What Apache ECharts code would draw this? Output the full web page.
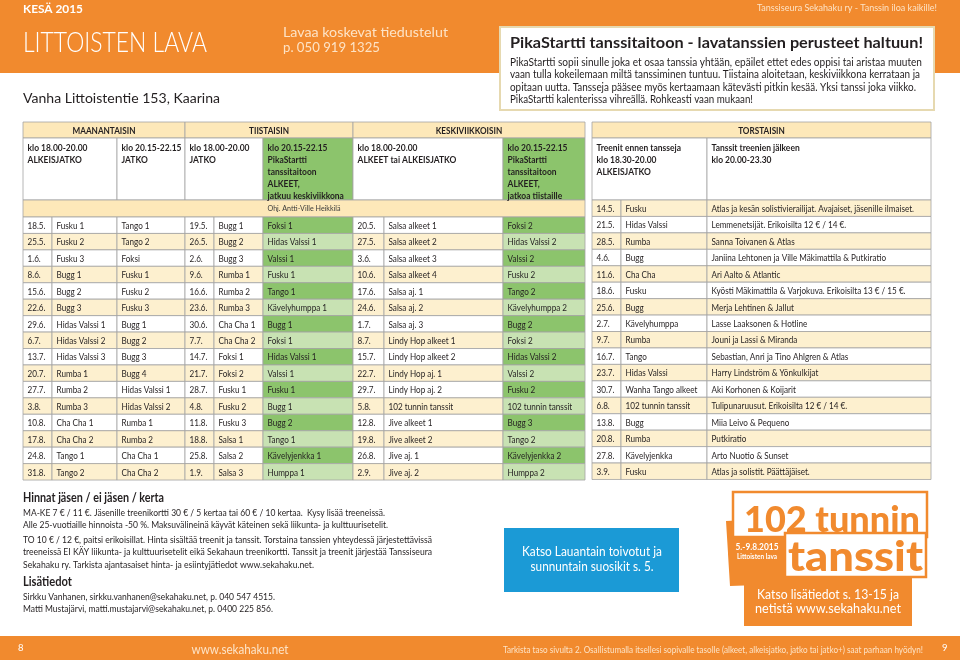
<!DOCTYPE html>
<html><head><meta charset="utf-8">
<script src="https://cdn.jsdelivr.net/npm/echarts@6/dist/echarts.min.js"></script>
<style>html,body{margin:0;padding:0;background:#fff}#c{width:960px;height:660px}</style>
</head><body><div id="c"></div>
<script>
// ---------- DATA ----------
const dayHeads = ['MAANANTAISIN', 'TIISTAISIN', 'KESKIVIIKKOISIN'];
const thuHead = 'TORSTAISIN';
const subHeads = [
  ['klo 18.00-20.00', 'ALKEISJATKO'],
  ['klo 20.15-22.15', 'JATKO'],
  ['klo 18.00-20.00', 'JATKO'],
  ['klo 20.15-22.15', 'PikaStartti', 'tanssitaitoon', 'ALKEET,', 'jatkuu keskiviikkona'],
  ['klo 18.00-20.00', 'ALKEET tai ALKEISJATKO'],
  ['klo 20.15-22.15', 'PikaStartti', 'tanssitaitoon', 'ALKEET,', 'jatkoa tiistaille']
];
const thuSubHeads = [
  ['Treenit ennen tansseja', 'klo 18.30-20.00', 'ALKEISJATKO'],
  ['Tanssit treenien jälkeen', 'klo 20.00-23.30']
];
const instructor = 'Ohj. Antti-Ville Heikkilä';

const monDates = ['18.5.','25.5.','1.6.','8.6.','15.6.','22.6.','29.6.','6.7.','13.7.','20.7.','27.7.','3.8.','10.8.','17.8.','24.8.','31.8.'];
const monEarly = ['Fusku 1','Fusku 2','Fusku 3','Bugg 1','Bugg 2','Bugg 3','Hidas Valssi 1','Hidas Valssi 2','Hidas Valssi 3','Rumba 1','Rumba 2','Rumba 3','Cha Cha 1','Cha Cha 2','Tango 1','Tango 2'];
const monLate = ['Tango 1','Tango 2','Foksi','Fusku 1','Fusku 2','Fusku 3','Bugg 1','Bugg 2','Bugg 3','Bugg 4','Hidas Valssi 1','Hidas Valssi 2','Rumba 1','Rumba 2','Cha Cha 1','Cha Cha 2'];
const tueDates = ['19.5.','26.5.','2.6.','9.6.','16.6.','23.6.','30.6.','7.7.','14.7.','21.7.','28.7.','4.8.','11.8.','18.8.','25.8.','1.9.'];
const tueEarly = ['Bugg 1','Bugg 2','Bugg 3','Rumba 1','Rumba 2','Rumba 3','Cha Cha 1','Cha Cha 2','Foksi 1','Foksi 2','Fusku 1','Fusku 2','Fusku 3','Salsa 1','Salsa 2','Salsa 3'];
const tuePika = ['Foksi 1','Hidas Valssi 1','Valssi 1','Fusku 1','Tango 1','Kävelyhumppa 1','Bugg 1','Foksi 1','Hidas Valssi 1','Valssi 1','Fusku 1','Bugg 1','Bugg 2','Tango 1','Kävelyjenkka 1','Humppa 1'];
const wedDates = ['20.5.','27.5.','3.6.','10.6.','17.6.','24.6.','1.7.','8.7.','15.7.','22.7.','29.7.','5.8.','12.8.','19.8.','26.8.','2.9.'];
const wedEarly = ['Salsa alkeet 1','Salsa alkeet 2','Salsa alkeet 3','Salsa alkeet 4','Salsa aj. 1','Salsa aj. 2','Salsa aj. 3','Lindy Hop alkeet 1','Lindy Hop alkeet 2','Lindy Hop aj. 1','Lindy Hop aj. 2','102 tunnin tanssit','Jive alkeet 1','Jive alkeet 2','Jive aj. 1','Jive aj. 2'];
const wedPika = ['Foksi 2','Hidas Valssi 2','Valssi 2','Fusku 2','Tango 2','Kävelyhumppa 2','Bugg 2','Foksi 2','Hidas Valssi 2','Valssi 2','Fusku 2','102 tunnin tanssit','Bugg 3','Tango 2','Kävelyjenkka 2','Humppa 2'];

const thuDates = ['14.5.','21.5.','28.5.','4.6.','11.6.','18.6.','25.6.','2.7.','9.7.','16.7.','23.7.','30.7.','6.8.','13.8.','20.8.','27.8.','3.9.'];
const thuDances = ['Fusku','Hidas Valssi','Rumba','Bugg','Cha Cha','Fusku','Bugg','Kävelyhumppa','Rumba','Tango','Hidas Valssi','Wanha Tango alkeet','102 tunnin tanssit','Bugg','Rumba','Kävelyjenkka','Fusku'];
const thuBands = ['Atlas ja kesän solistivierailijat. Avajaiset, jäsenille ilmaiset.','Lemmenetsijät. Erikoisilta 12 € / 14 €.','Sanna Toivanen & Atlas','Janiina Lehtonen ja Ville Mäkimattila & Putkiratio','Ari Aalto & Atlantic','Kyösti Mäkimattila & Varjokuva. Erikoisilta 13 € / 15 €.','Merja Lehtinen & Jallut','Lasse Laaksonen & Hotline','Jouni ja Lassi & Miranda','Sebastian, Anri ja Tino Ahlgren & Atlas','Harry Lindström & Yönkulkijat','Aki Korhonen & Koijarit','Tulipunaruusut. Erikoisilta 12 € / 14 €.','Miia Leivo & Pequeno','Putkiratio','Arto Nuotio & Sunset','Atlas ja solistit. Päättäjäiset.'];

const headTexts = {
  season: 'KESÄ 2015',
  venue: 'LITTOISTEN LAVA',
  info1: 'Lavaa koskevat tiedustelut',
  info2: 'p. 050 919 1325',
  slogan: 'Tanssiseura Sekahaku ry - Tanssin iloa kaikille!',
  address: 'Vanha Littoistentie 153, Kaarina'
};
const pikaTitle = 'PikaStartti tanssitaitoon - lavatanssien perusteet haltuun!';
const pikaLines = [
  'PikaStartti sopii sinulle joka et osaa tanssia yhtään, epäilet ettet edes oppisi tai aristaa muuten',
  'vaan tulla kokeilemaan miltä tanssiminen tuntuu. Tiistaina aloitetaan, keskiviikkona kerrataan ja',
  'opitaan uutta. Tansseja pääsee myös kertaamaan kätevästi pitkin kesää. Yksi tanssi joka viikko.',
  'PikaStartti kalenterissa vihreällä. Rohkeasti vaan mukaan!'
];
const priceTitle = 'Hinnat jäsen / ei jäsen / kerta';
const priceLines = [
  'MA-KE 7 € / 11 €. Jäsenille treenikortti 30 € / 5 kertaa tai 60 € / 10 kertaa.  Kysy lisää treeneissä.',
  'Alle 25-vuotiaille hinnoista -50 %. Maksuvälineinä käyvät käteinen sekä liikunta- ja kulttuurisetelit.',
  'TO 10 € / 12 €, paitsi erikoisillat. Hinta sisältää treenit ja tanssit. Torstaina tanssien yhteydessä järjestettävissä',
  'treeneissä EI KÄY liikunta- ja kulttuurisetelit eikä Sekahaun treenikortti. Tanssit ja treenit järjestää Tanssiseura',
  'Sekahaku ry. Tarkista ajantasaiset hinta- ja esiintyjätiedot www.sekahaku.net.'
];
const infoTitle = 'Lisätiedot';
const infoLines = [
  'Sirkku Vanhanen, sirkku.vanhanen@sekahaku.net, p. 040 547 4515.',
  'Matti Mustajärvi, matti.mustajarvi@sekahaku.net, p. 0400 225 856.'
];
const blueLines = ['Katso Lauantain toivotut ja', 'sunnuntain suosikit s. 5.'];
const logoTexts = { top: '102 tunnin', bottom: 'tanssit', date: '5.-9.8.2015', place: 'Littoisten lava' };
const logoLines = ['Katso lisätiedot s. 13-15 ja', 'netistä www.sekahaku.net'];
const footer = { left: '8', url: 'www.sekahaku.net', tip: 'Tarkista taso sivulta 2. Osallistumalla itsellesi sopivalle tasolle (alkeet, alkeisjatko, jatko tai jatko+) saat parhaan hyödyn!', right: '9' };

// ---------- STYLE ----------
const FAM = 'Lato, "Noto Sans", sans-serif';
const ORANGE = '#f18a2e';
const HDR = '#fde8b9';
const YEL = '#fdf0cf';
const DG = '#8cc46c';
const LG = '#c8e2b3';
const BORDER = '#a3a3a3';
const TXT = '#231f20';
const PALE = '#fde3c6';

const mctx = document.createElement('canvas').getContext('2d');
function measure(text, size, weight) {
  mctx.font = (weight || 'normal') + ' ' + size + 'px ' + FAM;
  return mctx.measureText(text).width;
}
function txt(x, y, text, size, opt) {
  opt = opt || {};
  const weight = opt.weight || 'normal';
  let sx = opt.sx || 1;
  if (opt.w) sx = opt.w / measure(text, size, weight);
  return {
    type: 'text', x: x, y: y, scaleX: sx, silent: true,
    style: { text: text, fontSize: size, fontFamily: FAM, fontWeight: weight,
      fill: opt.fill || TXT, align: opt.align || 'left', verticalAlign: 'middle' }
  };
}
function box(x, y, w, h, fill, stroke, lw) {
  return { type: 'rect', silent: true, shape: { x: x, y: y, width: w, height: h },
    style: { fill: fill, stroke: stroke || null, lineWidth: lw || 1 } };
}

// text squeeze factors derived from reference widths
const BODY_SIZE = 10;
const BODY_SX = 49 / measure('Hidas Valssi 1', BODY_SIZE);
const HEAD_SIZE = 9.5;
const HEAD_SX = 63 / measure('MAANANTAISIN', HEAD_SIZE, 'bold');
const SUB_SX = 60 / measure('klo 18.00-20.00', HEAD_SIZE, 'bold');

// ---------- TABLE LAYOUT ----------
const L = { left: 23, top: 217, width: 562, rowH: 16.44 };
const leftCols = [
  { x0: 0, x1: 29, data: monDates },
  { x0: 29, x1: 94, data: monEarly },
  { x0: 94, x1: 162, data: monLate },
  { x0: 162, x1: 191, data: tueDates },
  { x0: 191, x1: 240, data: tueEarly },
  { x0: 240, x1: 330, data: tuePika, green: true },
  { x0: 330, x1: 361, data: wedDates },
  { x0: 361, x1: 480, data: wedEarly },
  { x0: 480, x1: 562, data: wedPika, green: true }
];
const R = { left: 592, top: 200, width: 339 };
const rightCols = [
  { x0: 0, x1: 29, data: thuDates },
  { x0: 29, x1: 115, data: thuDances },
  { x0: 115, x1: 339, data: thuBands }
];

function cellData(cols) {
  const d = [];
  cols.forEach((c, ci) => c.data.forEach((v, ri) => d.push([ci, ri])));
  return d;
}
function makeRender(cols, yellowParity) {
  return function (params, api) {
    const c = cols[api.value(0)];
    const r = api.value(1);
    const p0 = api.coord([c.x0, r]);
    const p1 = api.coord([c.x1, r]);
    const h = api.size([0, 1])[1];
    const alt = (r % 2) === yellowParity;
    const fill = c.green ? (alt ? LG : DG) : (alt ? YEL : '#ffffff');
    return {
      type: 'group',
      children: [
        { type: 'rect', shape: { x: p0[0], y: p0[1] - h / 2, width: p1[0] - p0[0], height: h },
          style: { fill: fill, stroke: BORDER, lineWidth: 0.8 } },
        { type: 'text', x: p0[0] + 4.5, y: p0[1] + 0.5, scaleX: BODY_SX,
          style: { text: c.data[r], fontSize: BODY_SIZE, fontFamily: FAM, fill: TXT,
            align: 'left', verticalAlign: 'middle' } }
      ]
    };
  };
}

// ---------- GRAPHIC ELEMENTS ----------
const G = [];   // shapes
const T = [];   // texts drawn on top
// top band
G.push(box(0, 0, 960, 73, ORANGE));
T.push(txt(23, 9, headTexts.season, 12, { weight: 'bold', fill: '#fff', w: 60 }));
T.push(txt(23, 43, headTexts.venue, 27, { weight: 300, fill: '#fff', w: 184 }));
T.push(txt(283, 32, headTexts.info1, 14, { fill: PALE, w: 165 }));
T.push(txt(283, 47.5, headTexts.info2, 14, { fill: PALE, w: 97 }));
T.push(txt(937, 7.5, headTexts.slogan, 9.5, { fill: PALE, align: 'right', w: 180 }));
T.push(txt(23, 99, headTexts.address, 13.5, { w: 197 }));
// PikaStartti box
G.push(box(500, 27, 434, 83, '#fff', '#e6d9b0', 2));
T.push(txt(510, 43, pikaTitle, 16, { weight: 'bold', w: 413 }));
const pikaW = [412, 410, 406, 243];
pikaLines.forEach((s, i) => T.push(txt(510, 62 + i * 12.5, s, 11, { w: pikaW[i] })));

// left table header
const dayEdges = [[23, 185], [185, 353], [353, 585]];
dayHeads.forEach((s, i) => {
  const e = dayEdges[i];
  G.push(box(e[0], 122, e[1] - e[0], 16, HDR, BORDER, 0.8));
  T.push(txt((e[0] + e[1]) / 2, 130.5, s, HEAD_SIZE, { weight: 'bold', align: 'center', sx: HEAD_SX }));
});
const subEdges = [[23, 117], [117, 185], [185, 263], [263, 353, 1], [353, 503], [503, 585, 1]];
subHeads.forEach((lines, i) => {
  const e = subEdges[i];
  G.push(box(e[0], 138, e[1] - e[0], 62, e[2] ? DG : '#fff', BORDER, 0.8));
  lines.forEach((s, j) => T.push(txt(e[0] + 4.5, 147.5 + j * 12.2, s, HEAD_SIZE, { weight: 'bold', sx: SUB_SX })));
});
G.push(box(23, 200, 562, 17, HDR, BORDER, 0.8));
T.push(txt(304, 208.5, instructor, 7.5, { align: 'center', w: 73, fill: '#3a3a3a' }));

// right table header
G.push(box(592, 122, 339, 16, HDR, BORDER, 0.8));
T.push(txt(761.5, 130.5, thuHead, HEAD_SIZE, { weight: 'bold', align: 'center', sx: HEAD_SX }));
const thuSubEdges = [[592, 707], [707, 931]];
thuSubHeads.forEach((lines, i) => {
  const e = thuSubEdges[i];
  G.push(box(e[0], 138, e[1] - e[0], 62, '#fff', BORDER, 0.8));
  lines.forEach((s, j) => T.push(txt(e[0] + 4.5, 147.5 + j * 12.2, s, HEAD_SIZE, { weight: 'bold', sx: SUB_SX })));
});

// prices & info
T.push(txt(23, 498, priceTitle, 13.5, { weight: 'bold', w: 141 }));
const priceW = [362, 365, 409, 409, 291];
const priceY = [512.5, 525, 539.5, 552, 564.5];
priceLines.forEach((s, i) => T.push(txt(23, priceY[i], s, 9.5, { w: priceW[i] })));
T.push(txt(23, 582, infoTitle, 13.5, { weight: 'bold', w: 49 }));
const infoW = [252, 250];
infoLines.forEach((s, i) => T.push(txt(23, 596.5 + i * 12, s, 9.5, { w: infoW[i] })));

// blue box
G.push(box(504, 528, 175, 64, '#1b9ad6'));
const blueW = [140, 123];
blueLines.forEach((s, i) => T.push(txt(592, 552 + i * 15, s, 13, { fill: '#fff', align: 'center', w: blueW[i] })));

// 102 tunnin tanssit logo (tab drawn first, boxes over it)
G.push({ type: 'polygon', silent: true, shape: { points: [[726, 521], [787, 518], [787, 584], [730, 586]] }, style: { fill: ORANGE } });
G.push(box(733, 492, 194, 45, '#fff', ORANGE, 2.5));
G.push(txt(744, 520, logoTexts.top, 36, { weight: 900, fill: ORANGE, w: 176 }));
G.push(txt(757, 547, logoTexts.date, 9.5, { weight: 'bold', fill: '#fff', align: 'center', w: 43 }));
G.push(txt(757, 556.5, logoTexts.place, 7, { weight: 'bold', fill: '#fff', align: 'center', w: 40 }));
G.push(box(785, 533, 141, 44, '#fff', ORANGE, 2.5));
G.push(txt(788, 557, logoTexts.bottom, 42, { weight: 900, fill: ORANGE, w: 135 }));
G.push(box(744, 577, 168, 49, ORANGE));
const logoW = [142, 146];
logoLines.forEach((s, i) => G.push(txt(828, 595 + i * 14, s, 13.5, { fill: '#fff', align: 'center', w: logoW[i] })));

// footer
G.push(box(0, 636, 960, 24, ORANGE));
T.push(txt(18, 648, footer.left, 9.5, { fill: '#fff' }));
T.push(txt(240, 649, footer.url, 14, { fill: PALE, align: 'center', w: 97 }));
T.push(txt(503, 649.5, footer.tip, 9.5, { fill: PALE, w: 420 }));
T.push(txt(942, 648, footer.right, 9.5, { fill: '#fff' }));

// ---------- CHART ----------
const chart = echarts.init(document.getElementById('c'), null, { renderer: 'canvas' });
chart.setOption({
  animation: false,
  backgroundColor: '#ffffff',
  grid: [
    { left: L.left, top: L.top, width: L.width, height: L.rowH * monDates.length },
    { left: R.left, top: R.top, width: R.width, height: L.rowH * thuDates.length }
  ],
  xAxis: [
    { gridIndex: 0, type: 'value', min: 0, max: L.width, show: false },
    { gridIndex: 1, type: 'value', min: 0, max: R.width, show: false }
  ],
  yAxis: [
    { gridIndex: 0, type: 'category', data: monDates, inverse: true, show: false },
    { gridIndex: 1, type: 'category', data: thuDates, inverse: true, show: false }
  ],
  graphic: { elements: G.concat(T) },
  series: [
    { type: 'custom', xAxisIndex: 0, yAxisIndex: 0, data: cellData(leftCols), renderItem: makeRender(leftCols, 1), silent: true, clip: false },
    { type: 'custom', xAxisIndex: 1, yAxisIndex: 1, data: cellData(rightCols), renderItem: makeRender(rightCols, 0), silent: true, clip: false }
  ]
});
</script>
</body></html>
